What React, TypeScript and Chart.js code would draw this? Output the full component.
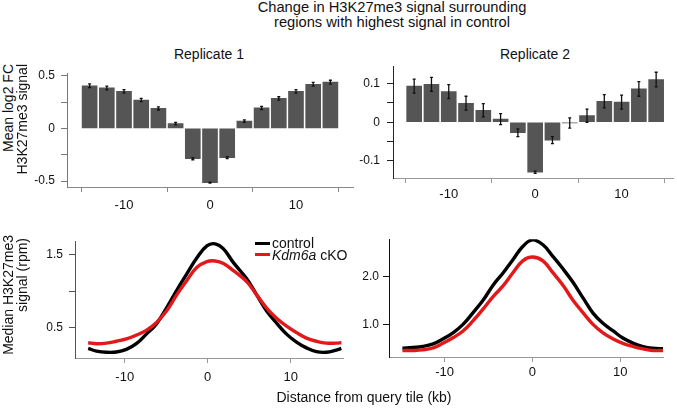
import React, { useEffect, useRef } from "react";
import { Chart, registerables } from "chart.js";
Chart.register(...registerables);

// ---------- data ----------
const barPositions = [-14, -12, -10, -8, -6, -4, -2, 0, 2, 4, 6, 8, 10, 12, 14];
const rep1Values = [0.405, 0.385, 0.352, 0.27, 0.19, 0.045, -0.288, -0.515, -0.278, 0.07, 0.195, 0.285, 0.352, 0.42, 0.44];
const rep1Errors = [0.018, 0.018, 0.016, 0.016, 0.015, 0.012, 0.01, 0.005, 0.01, 0.012, 0.015, 0.016, 0.016, 0.018, 0.018];
const rep2Values = [0.093, 0.098, 0.079, 0.049, 0.031, 0.008, -0.027, -0.129, -0.046, -0.002, 0.017, 0.054, 0.052, 0.086, 0.11];
const rep2Errors = [0.018, 0.018, 0.018, 0.018, 0.017, 0.014, 0.01, 0.003, 0.009, 0.013, 0.017, 0.017, 0.018, 0.019, 0.019];

const profile1X = [-14.4, -13.4, -12.2, -11.0, -9.8, -8.6, -7.4, -6.2, -4.9, -3.7, -2.5, -1.3, -0.1, 0.9, 1.9, 3.1, 4.7, 5.9, 7.1, 8.3, 9.5, 10.7, 11.9, 13.1, 14.3, 15.5, 16.1];
const control1 = [0.218, 0.183, 0.166, 0.17, 0.205, 0.283, 0.414, 0.55, 0.783, 1.02, 1.24, 1.457, 1.62, 1.647, 1.578, 1.39, 1.17, 0.95, 0.73, 0.565, 0.414, 0.305, 0.226, 0.174, 0.166, 0.196, 0.218];
const cko1 = [0.296, 0.283, 0.291, 0.317, 0.348, 0.4, 0.466, 0.57, 0.74, 0.957, 1.15, 1.326, 1.405, 1.413, 1.378, 1.28, 1.13, 0.95, 0.77, 0.63, 0.522, 0.435, 0.36, 0.317, 0.291, 0.291, 0.296];

const profile2X = [-14.8, -13.6, -12.5, -11.3, -10.2, -9.0, -7.9, -6.8, -5.6, -4.5, -3.3, -2.2, -1.1, 0, 1.2, 2.3, 3.5, 4.6, 5.8, 6.9, 8.0, 9.2, 10.3, 11.5, 12.6, 13.7, 14.9];
const control2 = [0.505, 0.52, 0.54, 0.594, 0.696, 0.83, 1.0, 1.235, 1.507, 1.81, 2.08, 2.35, 2.62, 2.757, 2.655, 2.42, 2.15, 1.88, 1.54, 1.235, 1.03, 0.864, 0.716, 0.607, 0.54, 0.505, 0.493];
const cko2 = [0.458, 0.458, 0.47, 0.513, 0.607, 0.728, 0.864, 1.067, 1.324, 1.574, 1.81, 2.08, 2.32, 2.4, 2.32, 2.08, 1.81, 1.507, 1.235, 1.0, 0.83, 0.696, 0.607, 0.54, 0.493, 0.458, 0.458];

const xTicks = [-10, 0, 10];
const rep1YTicks = [-0.5, -0.25, 0, 0.25, 0.5];
const rep1YLabels = ["-0.5", "", "0", "", "0.5"];
const rep2YTicks = [-0.1, -0.05, 0, 0.05, 0.1];
const rep2YLabels = ["-0.1", "", "0", "", "0.1"];
const prof1YTicks = [0.5, 1.0, 1.5];
const prof1YLabels = ["0.5", "", "1.5"];
const prof2YTicks = [1.0, 2.0];
const prof2YLabels = ["1.0", "2.0"];

const FONT = '"Liberation Sans", Arial, Helvetica, sans-serif';
const Y_W = 50;
const X_H = 32;
const PAD_T = 8;
const PAD_R = 6;

type Area = { l: number; r: number; t: number; b: number };

function scaleOpts(
  min: number, max: number, ticks: number[], labels: string[] | null,
  axisColor: string, tickLen: number, pad: number, size: number, isX: boolean
) {
  return {
    type: "linear",
    min, max,
    offset: false,
    afterBuildTicks: (s: any) => { s.ticks = ticks.map((v) => ({ value: v })); },
    afterFit: (s: any) => { if (isX) s.height = X_H; else s.width = Y_W; },
    border: { display: true, color: axisColor, width: 1 },
    grid: { display: true, drawOnChartArea: false, drawTicks: true, tickLength: tickLen, color: axisColor, lineWidth: 1 },
    ticks: {
      padding: pad,
      color: "#111",
      font: { family: FONT, size },
      autoSkip: false,
      maxRotation: 0,
      callback: (v: any) => {
        const i = ticks.findIndex((t) => Math.abs(t - v) < 1e-9);
        if (labels) return i >= 0 ? labels[i] : "";
        return String(v);
      },
    },
  };
}

function ChartPanel({ area, config }: { area: Area; config: any }) {
  const ref = useRef<HTMLCanvasElement>(null);
  const w = area.r - area.l + Y_W + PAD_R;
  const h = area.b - area.t + PAD_T + X_H;
  useEffect(() => {
    if (!ref.current) return;
    const c = new Chart(ref.current, config);
    return () => c.destroy();
  }, []);
  return (
    <canvas
      ref={ref}
      width={w}
      height={h}
      style={{ position: "absolute", left: area.l - Y_W, top: area.t - PAD_T, width: w, height: h }}
    />
  );
}

function barConfig(values: number[], errors: number[], yMin: number, yMax: number, xMin: number, xMax: number,
  yTicks: number[], yLabels: string[], yAxisColor: string, xAxisColor: string, yPad: number, xPad: number) {
  return {
    type: "bar",
    data: {
      datasets: [{
        data: barPositions.map((x, i) => ({ x, y: values[i] })),
        backgroundColor: "#555555",
        borderWidth: 0,
        barThickness: 15,
      }],
    },
    options: {
      animation: false,
      responsive: false,
      devicePixelRatio: 1,
      layout: { padding: { top: PAD_T, right: PAD_R, left: 0, bottom: 0 } },
      plugins: { legend: { display: false }, tooltip: { enabled: false } },
      scales: {
        x: scaleOpts(xMin, xMax, xTicks, null, xAxisColor, 5, xPad, 13, true),
        y: scaleOpts(yMin, yMax, yTicks, yLabels, yAxisColor, 6, yPad, 12, false),
      },
    },
    plugins: [{
      id: "errbars",
      afterDatasetsDraw(chart: any) {
        const ctx = chart.ctx;
        const xs = chart.scales.x;
        const ys = chart.scales.y;
        ctx.save();
        ctx.strokeStyle = "#111";
        ctx.lineWidth = 1.3;
        barPositions.forEach((x, i) => {
          const px = xs.getPixelForValue(x);
          const y1 = ys.getPixelForValue(values[i] + errors[i]);
          const y2 = ys.getPixelForValue(values[i] - errors[i]);
          ctx.beginPath();
          ctx.moveTo(px, y1); ctx.lineTo(px, y2);
          ctx.moveTo(px - 1.5, y1); ctx.lineTo(px + 1.5, y1);
          ctx.moveTo(px - 1.5, y2); ctx.lineTo(px + 1.5, y2);
          ctx.stroke();
        });
        ctx.restore();
      },
    }],
  };
}

function lineConfig(xs: number[], ctrl: number[], cko: number[], yMin: number, yMax: number, xMin: number, xMax: number,
  yTicks: number[], yLabels: string[], yAxisColor: string, xAxisColor: string, yPad: number, xPad: number) {
  return {
    type: "line",
    data: {
      datasets: [
        { data: xs.map((x, i) => ({ x, y: ctrl[i] })), borderColor: "#000000", borderWidth: 3.4, pointRadius: 0, tension: 0.4, fill: false, order: 2 },
        { data: xs.map((x, i) => ({ x, y: cko[i] })), borderColor: "#e3181b", borderWidth: 3.4, pointRadius: 0, tension: 0.4, fill: false, order: 1 },
      ],
    },
    options: {
      animation: false,
      responsive: false,
      devicePixelRatio: 1,
      layout: { padding: { top: PAD_T, right: PAD_R, left: 0, bottom: 0 } },
      plugins: { legend: { display: false }, tooltip: { enabled: false } },
      scales: {
        x: scaleOpts(xMin, xMax, xTicks, null, xAxisColor, 5, xPad, 13, true),
        y: scaleOpts(yMin, yMax, yTicks, yLabels, yAxisColor, 6, yPad, 12, false),
      },
    },
  };
}

const area1: Area = { l: 67, r: 353, t: 68, b: 187 };
const area2: Area = { l: 393, r: 673, t: 60, b: 178 };
const area3: Area = { l: 75, r: 343, t: 236, b: 358 };
const area4: Area = { l: 389, r: 663, t: 236, b: 357 };

const cfg1 = barConfig(rep1Values, rep1Errors, -0.557, 0.525, -16.63, 16.63, rep1YTicks, rep1YLabels, "#777", "#888", 6, 6);
const cfg2 = barConfig(rep2Values, rep2Errors, -0.1439, 0.1446, -16.45, 15.95, rep2YTicks, rep2YLabels, "#222", "#999", 7, 4);
const cfg3 = lineConfig(profile1X, control1, cko1, 0.088, 1.683, -15.99, 16.3, prof1YTicks, prof1YLabels, "#555", "#999", 6, 7);
const cfg4 = lineConfig(profile2X, control2, cko2, 0.3225, 2.771, -16.33, 14.87, prof2YTicks, prof2YLabels, "#111", "#999", 4, 3);

const txt: React.CSSProperties = { position: "absolute", fontFamily: FONT, color: "#111", whiteSpace: "nowrap" };

function VLabel({ text, cx, top, len }: { text: string; cx: number; top: number; len: number }) {
  // rotated -90deg; text end aligned to `top`
  const h = 16;
  return (
    <div style={{
      ...txt, fontSize: 14, lineHeight: h + "px", width: len, height: h, textAlign: "right",
      left: cx - len / 2, top: top + len / 2 - h / 2, transform: "rotate(-90deg)", transformOrigin: "50% 50%",
    }}>{text}</div>
  );
}

export default function App() {
  return (
    <div style={{ position: "absolute", left: 0, top: 0, width: 677, height: 412, background: "#fff", overflow: "hidden" }}>
      <div style={{ ...txt, fontSize: 14.7, lineHeight: "15px", left: 0, width: 784, top: 0, textAlign: "center" }}>
        Change in H3K27me3 signal surrounding<br />regions with highest signal in control
      </div>
      <div style={{ ...txt, fontSize: 14, lineHeight: "16px", left: 109, width: 200, top: 46, textAlign: "center" }}>Replicate 1</div>
      <div style={{ ...txt, fontSize: 14, lineHeight: "16px", left: 435, width: 200, top: 46, textAlign: "center" }}>Replicate 2</div>

      <ChartPanel area={area1} config={cfg1} />
      <ChartPanel area={area2} config={cfg2} />
      <ChartPanel area={area3} config={cfg3} />
      <ChartPanel area={area4} config={cfg4} />

      <VLabel text="Mean log2 FC" cx={8} top={64} len={150} />
      <VLabel text="H3K27me3 signal" cx={22} top={64} len={150} />
      <VLabel text="Median H3K27me3" cx={8} top={235} len={160} />
      <VLabel text="signal (rpm)" cx={22} top={238} len={160} />

      <div style={{ position: "absolute", left: 255, top: 241.5, width: 15, height: 3, background: "#000" }} />
      <div style={{ ...txt, fontSize: 14, lineHeight: "14px", left: 272, top: 236 }}>control</div>
      <div style={{ position: "absolute", left: 255, top: 253, width: 15, height: 3, background: "#e3181b" }} />
      <div style={{ ...txt, fontSize: 14, lineHeight: "14px", left: 272, top: 247.5 }}><i>Kdm6a</i> cKO</div>

      <div style={{ ...txt, fontSize: 14, lineHeight: "16px", left: 164, width: 400, top: 389, textAlign: "center" }}>
        Distance from query tile (kb)
      </div>
    </div>
  );
}
